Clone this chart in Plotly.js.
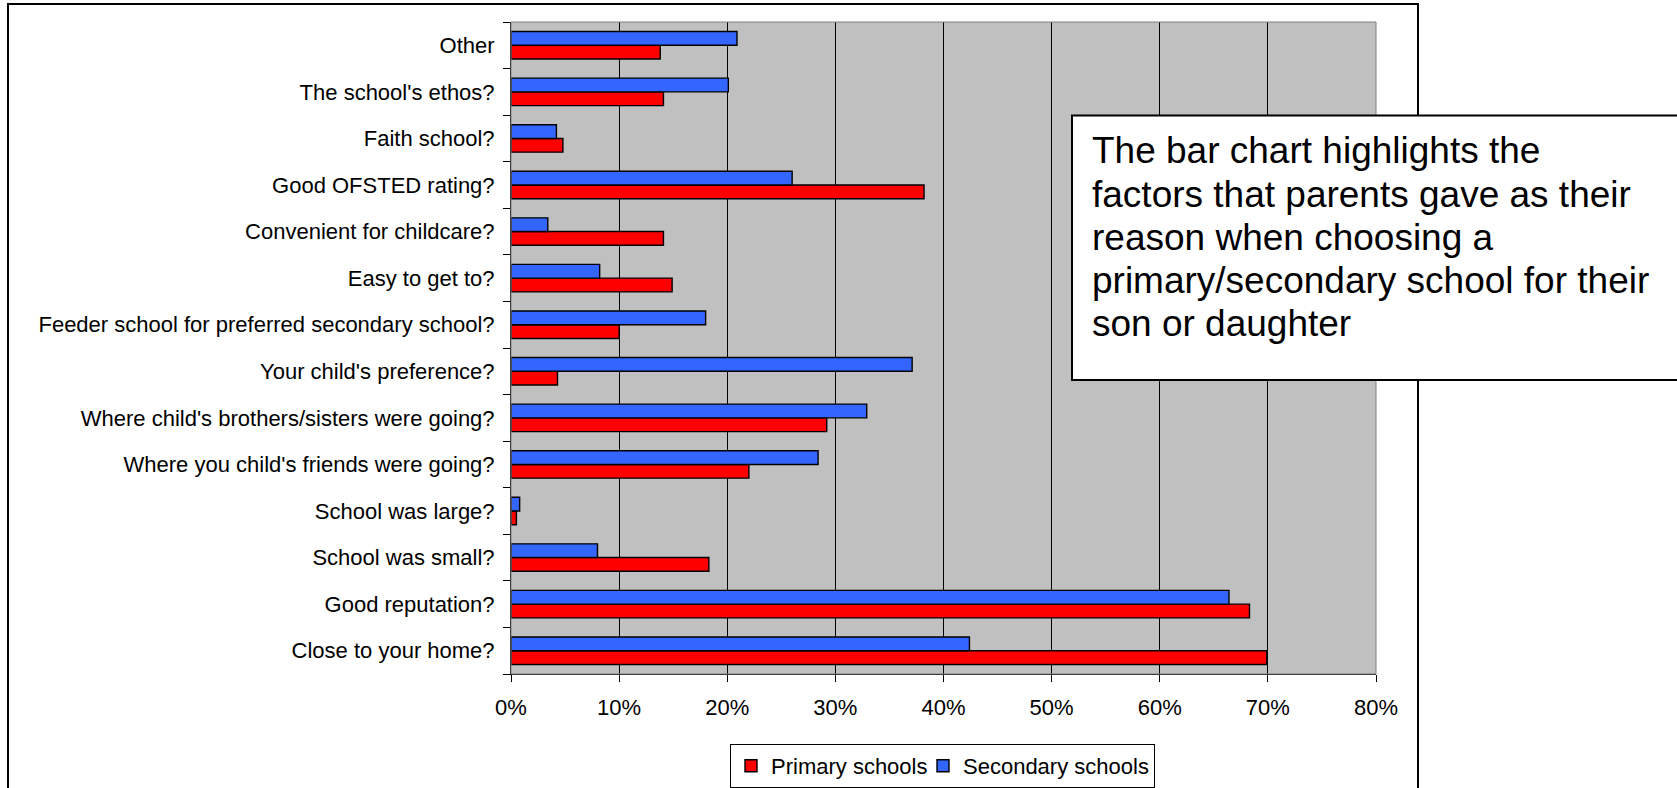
<!DOCTYPE html>
<html>
<head>
<meta charset="utf-8">
<script src="https://cdn.plot.ly/plotly-3.0.1.min.js"></script>
<style>
html, body { margin: 0; padding: 0; background: #ffffff; }
#chart { width: 1677px; height: 788px; }
</style>
</head>
<body>
<div id="chart"></div>
<script>
// Categories, bottom to top
var categories = [
  "Close to your home?",
  "Good reputation?",
  "School was small?",
  "School was large?",
  "Where you child's friends were going?",
  "Where child's brothers/sisters were going?",
  "Your child's preference?",
  "Feeder school for preferred secondary school?",
  "Easy to get to?",
  "Convenient for childcare?",
  "Good OFSTED rating?",
  "Faith school?",
  "The school's ethos?",
  "Other"
];
var primaryValues = [69.9, 68.3, 18.3, 0.5, 22.0, 29.2, 4.3, 10.0, 14.9, 14.1, 38.2, 4.8, 14.1, 13.8];
var secondaryValues = [42.4, 66.4, 8.0, 0.8, 28.4, 32.9, 37.1, 18.0, 8.2, 3.4, 26.0, 4.2, 20.1, 20.9];
var seriesNames = ["Primary schools", "Secondary schools"];
var xTickValues = [0, 10, 20, 30, 40, 50, 60, 70, 80];
var xTickLabels = ["0%", "10%", "20%", "30%", "40%", "50%", "60%", "70%", "80%"];
var noteLines = [
  "The bar chart highlights the",
  "factors that parents gave as their",
  "reason when choosing a",
  "primary/secondary school for their",
  "son or daughter"
];

var FONT = "Arial, 'Liberation Sans', sans-serif";

// pixel helpers for layout decorations (plot area: x 511..1376, y 22..674)
var PL = 511, PR = 1376, PT = 22, PB = 674;
function px(x) { return (x - PL) / (PR - PL); }
function py(y) { return (PB - y) / (PB - PT); }

var traces = [
  {
    type: "bar", orientation: "h", name: seriesNames[0],
    y: categories, x: primaryValues,
    marker: { color: "#FF0000", line: { color: "#000000", width: 1.4 } },
    legendwidth: 147,
    hoverinfo: "x+y"
  },
  {
    type: "bar", orientation: "h", name: seriesNames[1],
    y: categories, x: secondaryValues,
    marker: { color: "#3366FF", line: { color: "#000000", width: 1.4 } },
    hoverinfo: "x+y"
  }
];

var lineCenters = [151, 194, 237, 280, 323];
var annotations = noteLines.map(function (t, i) {
  return {
    xref: "paper", yref: "paper",
    x: px(1091), y: py(lineCenters[i]),
    xanchor: "left", yanchor: "middle",
    text: t, showarrow: false, align: "left", borderpad: 0,
    font: { family: FONT, size: 37, color: "#000000" }
  };
});

var layout = {
  width: 1677, height: 788,
  margin: { l: PL, r: 1677 - PR, t: PT, b: 788 - PB, pad: 0, autoexpand: false },
  paper_bgcolor: "#FFFFFF",
  plot_bgcolor: "#C0C0C0",
  barmode: "group",
  bargap: 0.41,
  bargroupgap: 0,
  font: { family: FONT, size: 22, color: "#000000" },
  showlegend: true,
  legend: {
    orientation: "h",
    x: px(730), y: py(744), xanchor: "left", yanchor: "top",
    bordercolor: "#000000", borderwidth: 1, bgcolor: "#FFFFFF",
    font: { family: FONT, size: 22, color: "#000000" },
    traceorder: "normal"
  },
  xaxis: {
    range: [0, 80],
    tickmode: "array",
    tickvals: xTickValues,
    ticktext: xTickLabels,
    showgrid: true, gridcolor: "#000000", gridwidth: 1,
    zeroline: false,
    showline: true, linecolor: "#000000", linewidth: 1,
    ticks: "outside", ticklen: 7, tickcolor: "#000000", tickwidth: 1,
    ticklabelstandoff: 7,
    tickfont: { family: FONT, size: 22, color: "#000000" },
    fixedrange: true
  },
  yaxis: {
    type: "category",
    categoryorder: "array", categoryarray: categories,
    showgrid: false, zeroline: false,
    showline: true, linecolor: "#000000", linewidth: 1,
    ticks: "outside", tickson: "boundaries", ticklen: 7, tickcolor: "#000000", tickwidth: 1,
    ticklabelstandoff: 11,
    tickfont: { family: FONT, size: 22, color: "#000000" },
    fixedrange: true
  },
  shapes: [
    // gray plot-area frame (top & right)
    { type: "rect", xref: "paper", yref: "paper", x0: 0, x1: 1, y0: 0, y1: 1,
      line: { color: "#808080", width: 1 }, layer: "above" },
    // outer chart border
    { type: "rect", xref: "paper", yref: "paper",
      x0: px(8), x1: px(1418), y0: py(830), y1: py(4),
      line: { color: "#000000", width: 2 }, layer: "above" },
    // text box
    { type: "rect", xref: "paper", yref: "paper",
      x0: px(1072), x1: px(1720), y0: py(380), y1: py(115.5),
      fillcolor: "#FFFFFF", line: { color: "#000000", width: 2 }, layer: "above" }
  ],
  annotations: annotations
};

Plotly.newPlot("chart", traces, layout, { displayModeBar: false, staticPlot: true });
</script>
</body>
</html>
